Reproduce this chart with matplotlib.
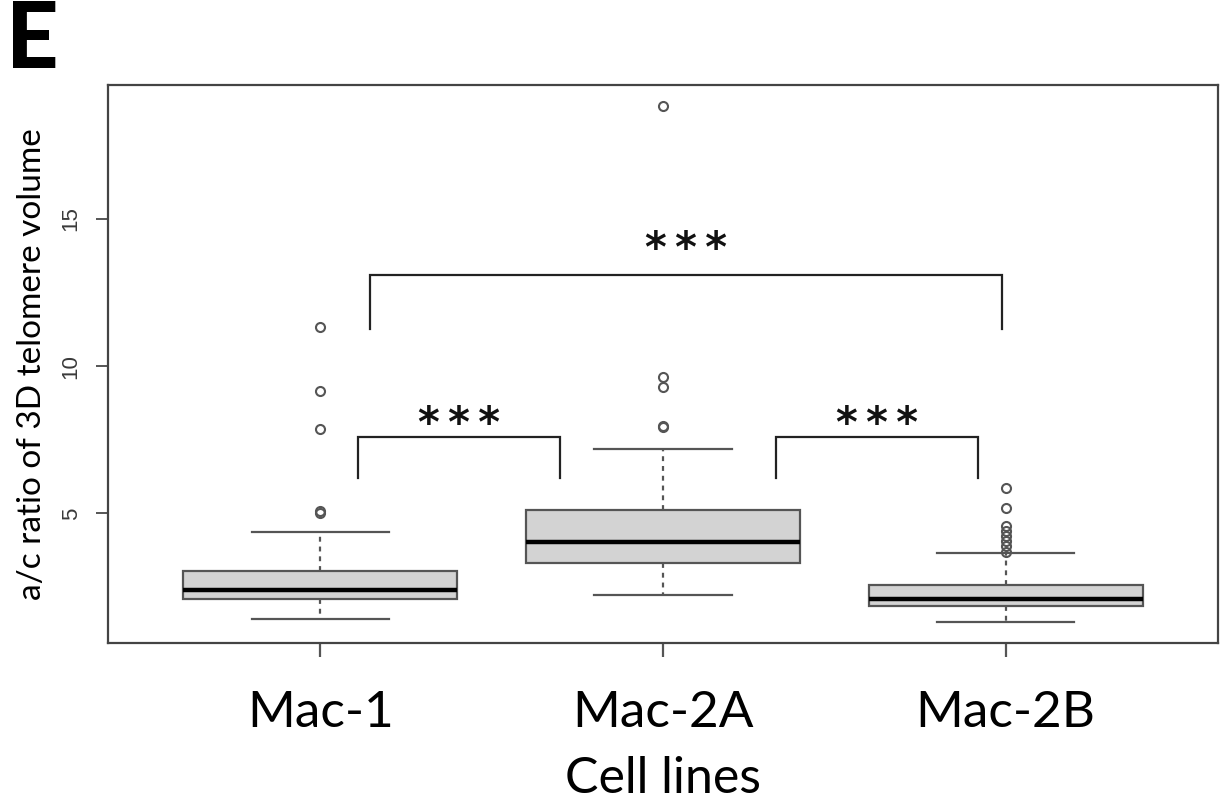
import matplotlib
matplotlib.use("Agg")
import matplotlib.pyplot as plt

# box statistics
groups = ["Mac-1", "Mac-2A", "Mac-2B"]
q1 = [2.10, 3.32, 1.87]
medians = [2.40, 4.02, 2.10]
q3 = [3.04, 5.13, 2.58]
whisker_lo = [1.43, 2.24, 1.33]
whisker_hi = [4.37, 7.20, 3.64]
outliers_mac1 = [11.33, 9.16, 7.86, 5.08, 5.02]
outliers_mac2a = [18.85, 9.62, 9.31, 7.98, 7.94]
outliers_mac2b = [5.88, 5.17, 4.59, 4.42, 4.25, 4.08, 3.89, 3.70]

# significance brackets: (x left, x right, bottom of legs, bar height, star baseline, label)
brackets = [
    (1.11, 1.70, 6.2, 7.6, 7.6, "***"),
    (2.33, 2.92, 6.2, 7.6, 7.6, "***"),
    (1.145, 2.99, 11.25, 13.1, 13.55, "***"),
]

plt.rcParams['font.family'] = ['Lato', 'DejaVu Sans']

fig = plt.figure(figsize=(12.22, 8.07), dpi=100)
ax = fig.add_axes([0.0884, 0.2032, 0.9083, 0.6915])

stats = []
fliers = [outliers_mac1, outliers_mac2a, outliers_mac2b]
for i, name in enumerate(groups):
    stats.append(dict(label=name, med=medians[i], q1=q1[i], q3=q3[i],
                      whislo=whisker_lo[i], whishi=whisker_hi[i], fliers=fliers[i]))

edge = "#555555"
ax.bxp(stats, positions=[1, 2, 3], widths=0.8, capwidths=0.4, patch_artist=True,
       boxprops=dict(facecolor="#d3d3d3", edgecolor=edge, linewidth=1.6),
       medianprops=dict(color="black", linewidth=3.2),
       whiskerprops=dict(color=edge, linewidth=1.6, linestyle=(0, (2.2, 2.2))),
       capprops=dict(color=edge, linewidth=1.6),
       flierprops=dict(marker="o", markerfacecolor="none", markeredgecolor=edge,
                       markersize=6.5, markeredgewidth=1.5))

for xl, xr, yb, yt, ys, lab in brackets:
    ax.plot([xl, xl, xr, xr], [yb, yt, yt, yb], color="#222222", linewidth=1.6,
            solid_joinstyle="miter")
    ax.text((xl + xr) / 2, ys, "\u2009".join(lab), ha="center", va="baseline",
            fontsize=30, fontweight="bold", fontfamily=["DejaVu Sans"], color="#111111")

ax.set_xlim(0.38, 3.62)
ax.set_ylim(0.6, 19.55)
ax.set_yticks([5, 10, 15])
ax.set_yticklabels(["5", "10", "15"], rotation=90, va="center",
                   fontfamily=["Liberation Sans"], color="#3a3a3a")
ax.set_xticks([1, 2, 3])
ax.set_xticklabels(groups, fontsize=37)
ax.tick_params(axis="y", length=9, width=1.4, color="#555555", labelsize=16, pad=10)
ax.tick_params(axis="x", length=10, width=1.6, color="#555555", pad=24)

for sp in ax.spines.values():
    sp.set_color("#444444")
    sp.set_linewidth(1.6)

ax.set_ylabel("a/c ratio of 3D telomere volume", fontsize=24, labelpad=10)
ax.set_xlabel("Cell lines", fontsize=36, labelpad=14)

fig.text(0.005, 1.0, "E", fontsize=66, fontweight="black", va="top", ha="left")

fig.savefig("out.png", dpi=100)
